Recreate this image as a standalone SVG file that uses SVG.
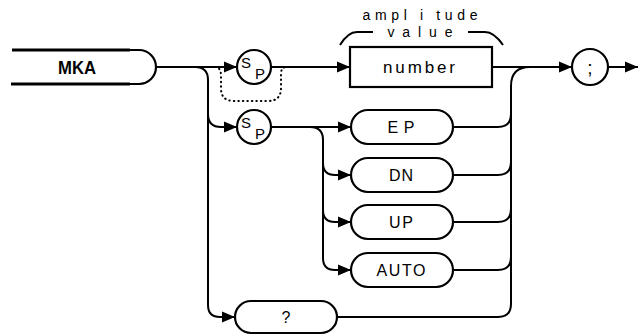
<svg xmlns="http://www.w3.org/2000/svg" width="638" height="335" viewBox="0 0 638 335">
<style>
.ln{fill:none;stroke:#000;stroke-width:2;stroke-linejoin:round}
.bx{fill:#fff;stroke:#000;stroke-width:2.2}
.dot{fill:none;stroke:#000;stroke-width:2;stroke-dasharray:0.5 4;stroke-linecap:round}
.t{font-family:"Liberation Sans",Arial,sans-serif;font-size:16px;fill:#000;text-anchor:middle}
.s{font-family:"Liberation Sans",Arial,sans-serif;font-size:15px;fill:#000}
</style>
<defs>
<marker id="ar" markerUnits="userSpaceOnUse" markerWidth="14" markerHeight="12" viewBox="0 0 14 12" refX="13" refY="6" orient="auto">
<path d="M0,0.5 L13,6 L0,11.5 Z" fill="#000"/>
</marker>
</defs>
<rect width="638" height="335" fill="#fff"/>
<g id="connectors">
<path class="ln" d="M156,67 H237" marker-end="url(#ar)"/>
<path class="ln" d="M271,67 H350" marker-end="url(#ar)"/>
<path class="ln" d="M492,67 H572" marker-end="url(#ar)"/>
<path class="ln" d="M608,67 H638" marker-end="url(#ar)"/>
<path class="ln" d="M195,67 Q208,67 208,80 V305 Q208,317 220,317 H235" marker-end="url(#ar)"/>
<path class="ln" d="M208,114 Q208,127 221,127 H237" marker-end="url(#ar)"/>
<path class="ln" d="M271,127 H351" marker-end="url(#ar)"/>
<path class="ln" d="M310,127 Q323,127 323,140 V258 Q323,270 335,270 H351" marker-end="url(#ar)"/>
<path class="ln" d="M323,163 Q323,175 335,175 H351" marker-end="url(#ar)"/>
<path class="ln" d="M323,210 Q323,222 335,222 H351" marker-end="url(#ar)"/>
<path class="ln" d="M453,127 H498 Q511,127 511,114"/>
<path class="ln" d="M453,175 H498 Q511,175 511,162"/>
<path class="ln" d="M453,222 H498 Q511,222 511,209"/>
<path class="ln" d="M453,270 H498 Q511,270 511,257"/>
<path class="ln" d="M337,317 H498 Q511,317 511,304 V86 Q511,67 530,67"/>
<path class="dot" d="M215,67 Q221,67 221,76 V88 Q221,101 234,101 H268 Q281,101 281,88 V74 Q281,67 287,67"/>
<path class="ln" d="M340,45 Q348,32 357,32 H373"/>
<path class="ln" d="M468,32 H485 Q494,32 503,45"/>
</g>
<g id="mka">
<path d="M12,50 H139 A17,17 0 0 1 139,84 H12" fill="#fff" stroke="#000" stroke-width="2.2"/>
<path d="M12,50 H130 M11,84 H130" stroke="#000" stroke-width="3.2"/>
<text x="77" y="74" class="t" style="font-weight:bold;font-size:18px" textLength="38" lengthAdjust="spacingAndGlyphs">MKA</text>
</g>
<g id="sp1">
<circle cx="254" cy="67" r="17" class="bx"/>
<text x="241" y="68" class="s" fill="#000">S</text>
<text x="255" y="79" class="s" fill="#000">P</text>
</g>
<g id="sp2">
<circle cx="254" cy="127" r="17" class="bx"/>
<text x="241" y="128" class="s" fill="#000">S</text>
<text x="255" y="139" class="s" fill="#000">P</text>
</g>
<g id="number">
<rect x="350" y="47" width="142" height="40" class="bx"/>
<text x="419" y="73" class="t" style="font-size:17px" textLength="72" lengthAdjust="spacing">number</text>
<text x="420" y="20" class="t" style="font-size:14px" textLength="115" lengthAdjust="spacing">ampl i tude</text>
<text x="420" y="37" class="t" style="font-size:14px" textLength="65" lengthAdjust="spacing">value</text>
</g>
<g id="semicolon">
<circle cx="590" cy="67" r="18" class="bx"/>
<text x="590" y="74" class="t" style="font-size:19px">;</text>
</g>
<g id="ep">
<rect x="351" y="110" width="102" height="34" rx="17" class="bx"/>
<text x="401" y="133" class="t" textLength="27" lengthAdjust="spacing">EP</text>
</g>
<g id="dn">
<rect x="351" y="158" width="102" height="34" rx="17" class="bx"/>
<text x="401" y="181" class="t" textLength="24" lengthAdjust="spacing">DN</text>
</g>
<g id="up">
<rect x="351" y="205" width="102" height="34" rx="17" class="bx"/>
<text x="401" y="228" class="t" textLength="24" lengthAdjust="spacing">UP</text>
</g>
<g id="auto">
<rect x="351" y="253" width="102" height="34" rx="17" class="bx"/>
<text x="401" y="276" class="t" textLength="49" lengthAdjust="spacing">AUTO</text>
</g>
<g id="query">
<rect x="235" y="301" width="102" height="32" rx="16" class="bx"/>
<text x="286" y="323" class="t">?</text>
</g>
</svg>
